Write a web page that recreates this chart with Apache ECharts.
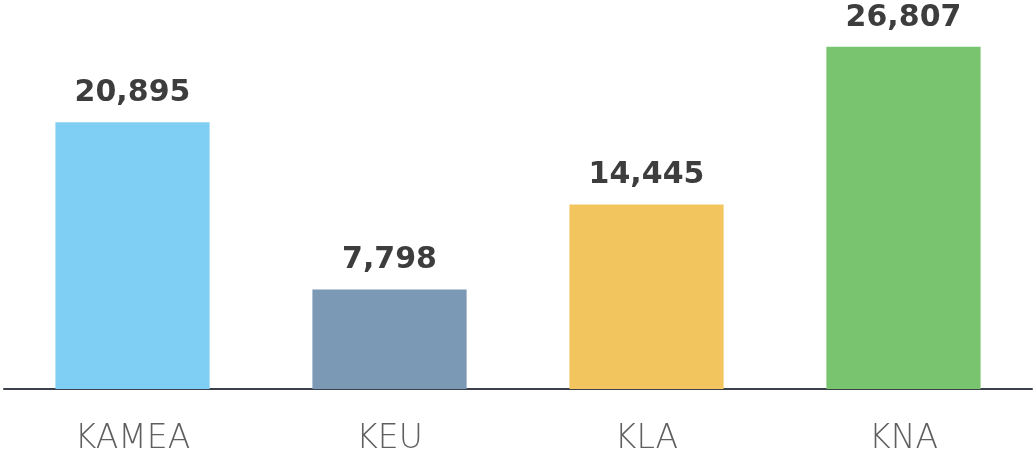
<!DOCTYPE html>
<html>
<head>
<meta charset="utf-8">
<script src="https://cdn.jsdelivr.net/npm/echarts@6/dist/echarts.min.js"></script>
<style>
  html, body { margin: 0; padding: 0; background: #fff; }
  #main { width: 1033px; height: 453px; }
</style>
</head>
<body>
<div id="main"></div>
<script>
// data
const categories = ['KAMEA', 'KEU', 'KLA', 'KNA'];
const values = [20895, 7798, 14445, 26807];
const barColors = ['#7fcef3', '#7b98b4', '#f2c55f', '#79c46f'];

const chart = echarts.init(document.getElementById('main'));

const option = {
  backgroundColor: '#fff',
  animation: false,
  grid: { left: 4, right: 1, top: 6, bottom: 64, outerBoundsMode: 'none' },
  xAxis: {
    type: 'category',
    data: categories,
    axisLine: { lineStyle: { color: '#3b404b', width: 2 } },
    axisTick: { show: false },
    axisLabel: {
      color: '#5f5f5f',
      fontSize: 33,
      fontFamily: 'DejaVu Sans',
      fontWeight: 300,
      margin: 34
    }
  },
  yAxis: {
    type: 'value',
    min: 0,
    max: 30000,
    show: false,
    splitLine: { show: false }
  },
  series: [{
    type: 'bar',
    barWidth: '60%',
    data: values.map((v, i) => ({ value: v, itemStyle: { color: barColors[i] } })),
    label: {
      show: true,
      position: 'top',
      distance: 14,
      color: '#3d3d3d',
      fontSize: 30,
      fontWeight: 'bold',
      fontFamily: 'DejaVu Sans',
      formatter: p => p.value.toLocaleString('en-US')
    }
  }]
};

chart.setOption(option);
</script>
</body>
</html>
